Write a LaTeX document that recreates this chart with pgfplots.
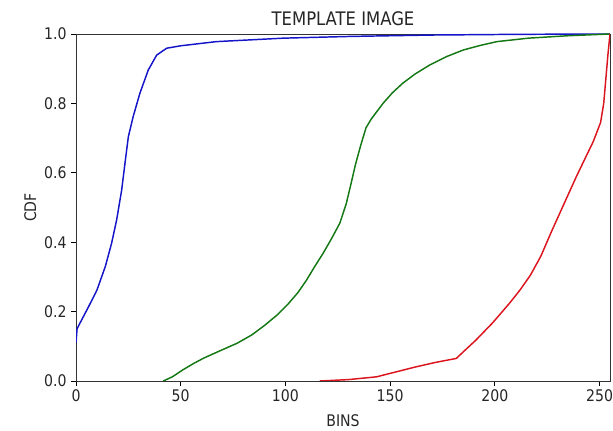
\documentclass[border=0pt]{standalone}
\usepackage{fontspec}
\setmainfont[FakeStretch=0.88]{DejaVu Sans}
\usepackage{pgfplots}
\pgfplotsset{compat=1.18}

\definecolor{cdfblue}{RGB}{20,20,200}
\definecolor{cdfgreen}{RGB}{20,120,20}
\definecolor{cdfred}{RGB}{220,20,30}

\begin{document}
\begin{tikzpicture}
\useasboundingbox (0pt,0pt) rectangle (459.75pt,323.25pt);
\begin{axis}[
  at={(57pt,37.5pt)}, anchor=south west,
  scale only axis,
  width=400.5pt, height=260.25pt,
  xmin=0, xmax=255, ymin=0, ymax=1,
  xtick={0,50,100,150,200,250},
  ytick={0,0.2,0.4,0.6,0.8,1.0},
  yticklabel style={/pgf/number format/.cd, fixed, fixed zerofill, precision=1},
  /pgf/number format/assume math mode=true,
  tick align=outside,
  major tick length=3.6pt,
  tick style={black, line width=0.6pt},
  xtick pos=bottom, ytick pos=left,
  axis line style={black!80, line width=0.6pt},
  tick label style={font=\fontsize{12}{14}\selectfont, text=black!85},
  xticklabel style={yshift=1pt},
  label style={font=\fontsize{12}{14}\selectfont, text=black!85},
  title style={font=\fontsize{14}{16}\selectfont, text=black!85, yshift=-3pt},
  title={TEMPLATE IMAGE},
  xlabel={BINS}, ylabel={CDF},
  xlabel style={yshift=-3pt},
  ylabel style={yshift=-1pt},
  clip=true,
]
\addplot[cdfblue, line width=1.1pt] coordinates {
(0,0.11) (0.5,0.15) (2,0.168) (6,0.214) (10,0.262) (14,0.33) (17,0.397)
(19.4,0.464) (21.8,0.55) (23.4,0.628) (25,0.704) (27.3,0.762) (30.5,0.829)
(34.5,0.896) (38.5,0.939) (43.3,0.959) (50,0.966) (67,0.978) (99,0.988)
(131,0.993) (170,0.997) (210,0.999) (255,1.0)
};
\addplot[cdfgreen, line width=1.1pt] coordinates {
(41.7,0.0) (46,0.012) (51,0.032) (56,0.05) (61,0.066) (68,0.085) (77,0.109)
(84,0.133) (90,0.16) (96,0.19) (101,0.22) (106,0.255) (110,0.29) (114,0.33)
(118,0.368) (122,0.41) (126,0.455) (129,0.51) (131,0.56) (133.5,0.625)
(136,0.68) (138.5,0.73) (141,0.755) (146.6,0.80) (151,0.83) (156,0.858)
(162,0.885) (169,0.911) (177,0.935) (185,0.954) (193,0.967) (201,0.978)
(216,0.988) (235,0.995) (255,1.0)
};
\addplot[cdfred, line width=1.1pt] coordinates {
(116.4,0.0) (130,0.004) (143.5,0.012) (152,0.025) (162.5,0.041) (172,0.054)
(181.6,0.065) (186,0.09) (191,0.118) (199,0.168) (207,0.224) (212,0.262)
(217,0.305) (222,0.36) (227,0.43) (233,0.51) (239,0.59) (243,0.64)
(247,0.69) (250.5,0.745) (252,0.80) (253,0.87) (254,0.94) (255,1.0)
};
\end{axis}
\end{tikzpicture}
\end{document}
